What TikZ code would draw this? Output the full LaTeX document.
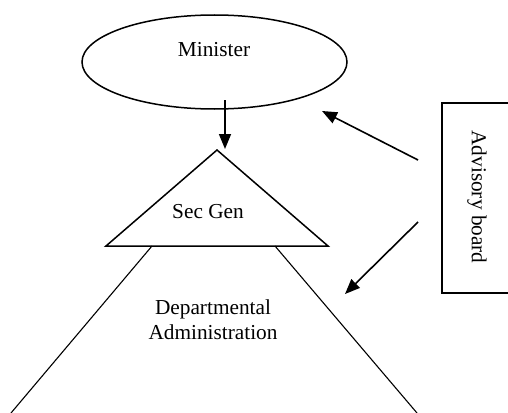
\documentclass[tikz,border=0pt]{standalone}
\usepackage{fontspec}
\setmainfont{Liberation Serif}
\usetikzlibrary{shapes.geometric,arrows.meta}
\begin{document}
\begin{tikzpicture}[x=1pt,y=-1pt,
  lbl/.style={font=\fontsize{21.3}{25}\selectfont, inner sep=0pt, align=center},
  shape line/.style={line width=1.5pt},
  thin line/.style={line width=1.1pt},
  conn/.style={line width=1.6pt, -{Triangle[length=15pt,width=12pt]}}]
\useasboundingbox (0,0) rectangle (508,412);
\clip (0,0) rectangle (508,412);
% Minister ellipse
\node[draw, ellipse, shape line, minimum width=265pt, minimum height=94pt, inner sep=0pt] (minister) at (214.5,62) {};
\node[lbl] (ministertext) at (214,50) {Minister};
% Sec Gen triangle
\coordinate (apex) at (217,150);
\coordinate (bl) at (106,246);
\coordinate (br) at (328,246);
\draw[shape line, line join=miter] (apex) -- (bl) -- (br) -- cycle;
\node[lbl] (secgen) at (208,212) {Sec Gen};
% Departmental administration
\coordinate (dtl) at (152,246);
\coordinate (dtr) at (275,246);
\coordinate (dbl) at (11,413);
\coordinate (dbr) at (417,413);
\draw[thin line] (dtl) -- (dbl);
\draw[thin line] (dtr) -- (dbr);
\node[lbl] (dept) at (213,320) {Departmental\\Administration};
% Advisory board
\node[draw, thin line, rotate=-90, minimum width=190pt, minimum height=70pt, inner sep=0pt] (adv) at (477,198) {};
\node[lbl, rotate=-90] (advtext) at (477,197) {Advisory board};
% connectors
\coordinate (m1) at (225,100);
\coordinate (s1) at (225,149);
\draw[conn] (m1) -- (s1);
\coordinate (a1) at (418,160);
\coordinate (t1) at (322,111);
\draw[conn] (a1) -- (t1);
\coordinate (a2) at (418,222);
\coordinate (t2) at (345,294);
\draw[conn] (a2) -- (t2);
\end{tikzpicture}
\end{document}
